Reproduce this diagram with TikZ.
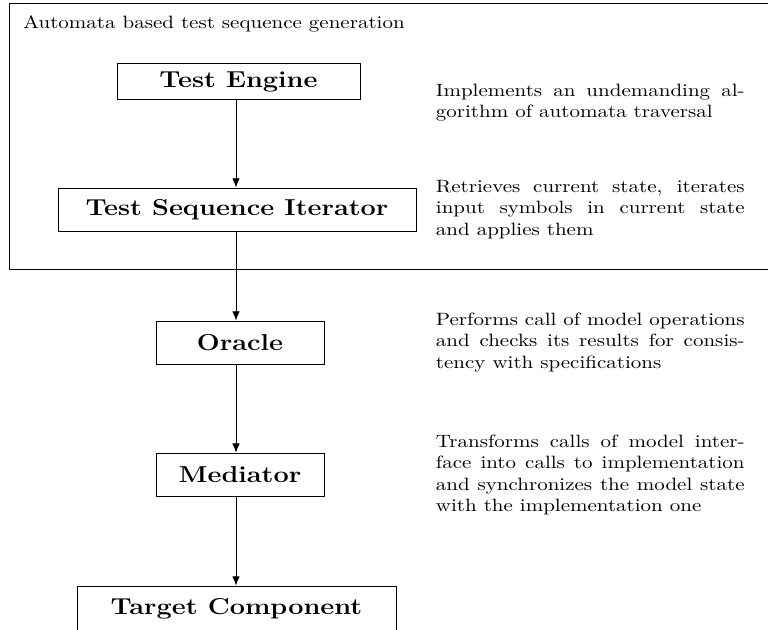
\documentclass[tikz,border=0pt]{standalone}
\usetikzlibrary{arrows.meta}
\newcommand{\sqz}[1]{\scalebox{1}[0.85]{#1}}
\newcommand{\descbox}[1]{\sqz{\parbox{147pt}{\fontsize{10pt}{12pt}\selectfont #1}}}
\newcommand{\boxtext}[1]{\sqz{\fontsize{12.9pt}{15pt}\selectfont\bfseries #1}}
\begin{document}
\begin{tikzpicture}[x=0.47619pt, y=-0.47619pt,
  box/.style={draw, line width=0.45pt, inner sep=0pt},
  desc/.style={anchor=west, inner sep=0pt},
  arr/.style={-{Latex[length=4.4pt,width=3.6pt]}, line width=0.4pt}]
\useasboundingbox (0,0) rectangle (768,629);
\clip (0,0) rectangle (768,629);
\draw[line width=0.45pt] (9.5,3.3) rectangle (790,269.3);
\node[anchor=base west, inner sep=0pt] (title) at (23,28) {\sqz{Automata based test sequence generation}};
\node[box, minimum width=115.7pt, minimum height=16.7pt] (te) at (238.5,81.5) {\boxtext{Test Engine}};
\node[box, minimum width=170.5pt, minimum height=20.5pt] (tsi) at (237,209.5) {\boxtext{Test Sequence Iterator}};
\node[box, minimum width=80pt, minimum height=20.5pt] (or) at (240,342.5) {\boxtext{Oracle}};
\node[box, minimum width=80pt, minimum height=20.9pt] (med) at (240,475) {\boxtext{Mediator}};
\node[box, minimum width=151.9pt, minimum height=21.4pt] (tc) at (236.5,608.5) {\boxtext{Target Component}};
\node[desc] (d1) at (435.5,102.5) {\descbox{Implements an undemanding algorithm of automata traversal}};
\node[desc] (d2) at (435.5,209.5) {\descbox{Retrieves current state, iterates input symbols in current state\linebreak and applies them}};
\node[desc] (d3) at (435.5,342.5) {\descbox{Performs call of model operations and checks its results for consistency with specifications}};
\node[desc] (d4) at (435.5,475) {\descbox{Transforms calls of model interface into calls to implementation and synchronizes the model state with the implementation one}};
\coordinate (ax) at (236,0);
\draw[arr] (te.south -| ax) -- (tsi.north -| ax);
\draw[arr] (tsi.south -| ax) -- (or.north -| ax);
\draw[arr] (or.south -| ax) -- (med.north -| ax);
\draw[arr] (med.south -| ax) -- (tc.north -| ax);
\end{tikzpicture}
\end{document}
